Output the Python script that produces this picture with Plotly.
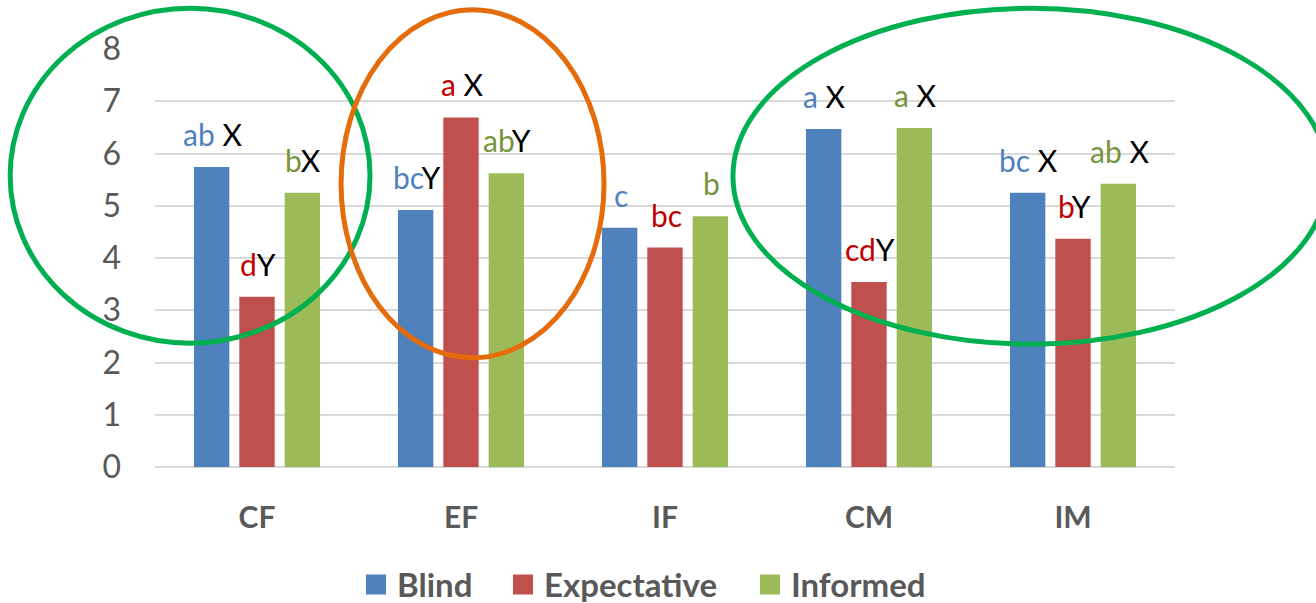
import plotly.graph_objects as go

categories = ["CF", "EF", "IF", "CM", "IM"]
blind = [5.74, 4.92, 4.58, 6.47, 5.25]
expectative = [3.26, 6.69, 4.20, 3.54, 4.37]
informed = [5.25, 5.62, 4.80, 6.49, 5.42]

blind_letters = ["ab", "bc", "c", "a", "bc"]
blind_groups = [" X", "Y", "", " X", " X"]
exp_letters = ["d", "a", "bc", "cd", "b"]
exp_groups = ["Y", " X", "", "Y", "Y"]
inf_letters = ["b", "ab", "b", "a", "ab"]
inf_groups = ["X", "Y", "", " X", " X"]

series = [
    ("Blind", blind, "#4f81bd", "#4f81bd", blind_letters, blind_groups),
    ("Expectative", expectative, "#c0504d", "#c00000", exp_letters, exp_groups),
    ("Informed", informed, "#9bbb59", "#77933c", inf_letters, inf_groups),
]

FONT = "Lato, 'Open Sans', sans-serif"
W, H = 1316, 603
ML, MR, MT, MB = 155, 141, 49, 136
PW, PH = W - ML - MR, H - MT - MB


def px_x(px):
    return (px - ML) / PW


def px_y(py):
    return (H - MB - py) / PH


fig = go.Figure()
for name, vals, col, _, _, _ in series:
    fig.add_trace(go.Bar(x=categories, y=vals, name=name, marker_color=col,
                         marker_line_width=0, showlegend=False))

annotations = []
shapes = []
slot_px = 45.3
for k, (name, vals, col, lcol, letters, groups) in enumerate(series):
    for i, cat in enumerate(categories):
        txt = f"<span style='color:{lcol}'>{letters[i]}</span>{groups[i]}"
        annotations.append(dict(x=cat, y=vals[i], xref="x", yref="y", text=txt,
                                showarrow=False, yanchor="bottom", xanchor="center",
                                xshift=(k - 1) * slot_px + 1, yshift=13,
                                font=dict(family=FONT, size=30, color="black")))

# Highlight ellipses, expressed in (category index, value) units
x_lo, x_hi = -0.5, 4.5
y_lo, y_hi = 0, 8
ellipses = [
    ((-1.21, 0.554), (2.37, 8.78), "#00b050"),
    ((0.412, 1.701), (2.09, 8.75), "#e46c0a"),
    ((2.333, 5.25), (2.35, 8.78), "#00b050"),
]
for (ex0, ex1), (ey0, ey1), c in ellipses:
    shapes.append(dict(type="circle", xref="paper", yref="paper",
                       x0=(ex0 - x_lo) / (x_hi - x_lo), x1=(ex1 - x_lo) / (x_hi - x_lo),
                       y0=(ey0 - y_lo) / (y_hi - y_lo), y1=(ey1 - y_lo) / (y_hi - y_lo),
                       line=dict(color=c, width=5), layer="above"))

# Manual legend (larger swatches like the original)
legend_left = [366, 513, 760]
sw, leg_cy = 20, 584.5
for (name, _, col, _, _, _), lx in zip(series, legend_left):
    shapes.append(dict(type="rect", xref="paper", yref="paper",
                       x0=px_x(lx), x1=px_x(lx + sw),
                       y0=px_y(leg_cy + sw / 2), y1=px_y(leg_cy - sw / 2),
                       fillcolor=col, line=dict(width=0)))
    annotations.append(dict(x=px_x(lx + sw + 9), y=px_y(leg_cy - 1), xref="paper", yref="paper",
                            text=f"<b>{name}</b>", showarrow=False,
                            xanchor="left", yanchor="middle",
                            font=dict(family=FONT, size=33, color="#595959")))

fig.update_layout(
    width=W, height=H,
    margin=dict(l=ML, r=MR, t=MT, b=MB, autoexpand=False),
    paper_bgcolor="white", plot_bgcolor="white",
    barmode="group", bargap=0.333, bargroupgap=0.22,
    font=dict(family=FONT, color="#595959"),
    showlegend=False,
    hovermode=False,
    annotations=annotations,
    shapes=shapes,
)
fig.update_yaxes(range=[0, 8], dtick=1, showgrid=True, gridcolor="#d9d9d9", gridwidth=1.5,
                 zeroline=True, zerolinecolor="#d9d9d9", zerolinewidth=1.5,
                 showline=False, ticks="", ticklabelstandoff=33,
                 tickfont=dict(family=FONT, size=32, color="#595959"))
fig.update_xaxes(showgrid=False, showline=False, ticks="", ticklabelstandoff=30,
                 tickfont=dict(family=FONT, size=30, color="#595959", weight="bold"))

fig.write_html("out.html", config={"displayModeBar": False},
               post_script="document.body.style.margin='0px';document.body.style.overflow='hidden';")
